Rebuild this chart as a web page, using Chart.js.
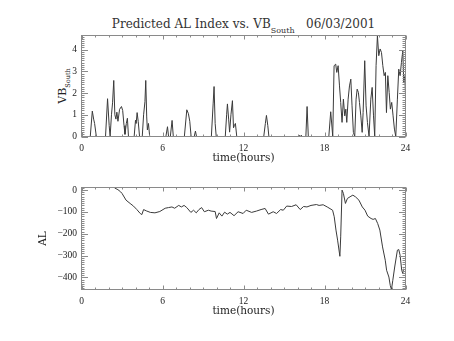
<!DOCTYPE html>
<html><head><meta charset="utf-8">
<script src="https://cdn.jsdelivr.net/npm/chart.js@4"></script>
<style>
html,body{margin:0;padding:0;background:#fff;width:454px;height:341px;overflow:hidden;position:relative}
canvas{position:absolute;left:0}
#c1{top:0}
#c2{top:170px}
#title{position:absolute;left:81.5px;width:324px;top:17px;text-align:center;font-family:"DejaVu Serif";font-size:12px;color:#333;white-space:nowrap;line-height:14px}
#title sub{font-size:8px;vertical-align:-5px;line-height:0}
#vblabel{position:absolute;left:63px;top:86px;transform:translate(-50%,-50%) rotate(-90deg);font-family:"DejaVu Serif";font-size:11px;color:#222;white-space:nowrap;line-height:12px}
#vblabel sub{font-size:6.5px;vertical-align:-4px;line-height:0}
</style></head><body>
<div id="title">Predicted AL Index vs. VB<sub>South</sub>&nbsp;&nbsp;&nbsp;06/03/2001</div>
<div id="vblabel">VB<sub>South</sub></div>
<canvas id="c1" width="454" height="170"></canvas>
<canvas id="c2" width="454" height="171"></canvas>
<script>
// ---- data ----
const hourTicks = [0, 6, 12, 18, 24];
const vbTicks = [0, 1, 2, 3, 4];
const alTicks = [0, -100, -200, -300, -400];

const vbTimes = [0,0.65,0.8,0.9,0.97,1.1,1.78,1.93,2.05,2.12,2.22,2.3,2.39,2.47,2.55,2.62,2.7,2.82,2.96,3.05,3.15,3.22,3.32,3.4,3.48,
  3.9,4.0,4.05,4.12,4.2,4.3,4.5,4.6,4.7,4.76,4.83,4.88,4.96,5.05,6.25,6.37,6.45,6.58,6.71,6.8,7.62,7.8,7.92,8.02,8.12,8.35,8.44,8.52,
  9.62,9.75,9.82,9.9,9.98,10.65,10.75,10.81,10.9,10.97,11.07,11.18,11.26,11.32,11.4,11.5,13.5,13.62,13.7,13.8,13.88,
  16.05,16.12,16.2,16.28,16.35,16.62,16.71,16.8,18.32,18.46,18.61,18.71,18.83,18.91,19.01,19.11,19.2,19.3,19.4,19.5,19.58,19.65,
  19.75,19.85,19.95,20.04,20.14,20.24,20.34,20.42,20.51,20.59,20.69,20.79,20.86,20.98,21.08,21.18,21.3,21.43,21.53,21.63,21.72,
  21.82,21.92,22.02,22.12,22.22,22.32,22.42,22.51,22.59,22.69,22.79,22.88,22.98,23.08,23.18,23.28,23.4,23.5,23.6,23.7,23.8,23.87,23.95,24];
const vbValues = [0,0,1.17,0.8,0.6,0,0,1.74,0.5,0,1.0,1.55,2.58,1.0,0.8,1.12,0.7,1.25,1.38,1.2,0.5,0.1,0.6,0.84,0,
  0,0.75,0.6,1.1,0.7,0,0,1.0,1.6,2.58,0.9,0.3,0.6,0,0,0.45,0,0,0.74,0,0,1.23,1.05,0.7,0,0,0.25,0,
  0,1.5,2.3,0.6,0,0,1.0,1.5,0.8,0.2,1.0,1.65,0.4,0.5,0.6,0,0,0.6,0.97,0.5,0,
  0,0.06,0,0.06,0,0,1.38,0,0,1.14,0,3.26,3.33,2.95,3.26,2.33,1.57,0.65,1.72,0.95,1.26,0.65,
  1.72,2.33,2.64,1.41,0.19,0,1.72,2.18,2.03,1.57,0.95,0.19,1.1,3.49,1.41,0.65,0,1.72,2.26,0.95,0,
  3.26,4.64,3.72,4.03,3.87,3.26,2.8,2.95,1.1,2.8,2.03,1.26,1.57,0.95,0.34,0,1.72,3.1,2.8,3.41,3.95,2.49,2.8,1.9];

const alTimes = [2.45,2.7,2.9,3.0,3.3,3.6,3.85,4.1,4.35,4.47,4.6,4.8,5.1,5.44,5.8,6.2,6.44,6.7,6.9,7.2,7.4,7.6,7.8,8.1,8.3,8.5,8.7,8.9,
  9.1,9.4,9.6,9.9,10.0,10.2,10.4,10.6,10.8,11.0,11.3,11.6,11.97,12.2,12.6,12.96,13.3,13.6,13.85,14.2,14.45,14.75,14.95,15.2,15.56,15.9,
  16.2,16.45,16.7,17.0,17.4,17.6,17.9,18.2,18.6,18.72,18.85,18.97,19.14,19.2,19.3,19.4,19.55,19.7,19.96,20.1,20.3,20.55,20.8,21.0,
  21.2,21.45,21.6,21.77,21.94,22.1,22.3,22.5,22.6,22.77,22.87,22.96,23.06,23.2,23.4,23.5,23.6,23.72,23.8,23.85];
const alValues = [10,2,-8,-15,-46,-61,-73,-89,-107,-112,-89,-95,-102,-104,-98,-83,-80,-77,-83,-70,-77,-70,-80,-102,-92,-104,-89,-80,
  -99,-92,-96,-98,-130,-104,-119,-101,-110,-102,-117,-99,-107,-92,-102,-96,-89,-84,-110,-99,-107,-89,-92,-73,-75,-67,
  -89,-75,-77,-70,-66,-70,-67,-77,-92,-122,-183,-229,-303,-214,0,-15,-61,-38,-28,-23,-31,-46,-77,-92,
  -119,-130,-134,-130,-153,-183,-260,-321,-367,-398,-436,-455,-413,-352,-275,-272,-298,-367,-382,-360];

const xMinorStep = 1, vbMinorStep = 0.1, alMinorStep = 10;

// ---- helpers ----
const toPts = (xs, ys) => xs.map((x, i) => ({x, y: ys[i]}));
const tickFont = {family: 'Liberation Serif', size: 9.5};
const titleFont = {family: 'DejaVu Serif', size: 10.5};
const txt = '#222';

const framePlugin = {
  id: 'frame',
  afterDraw(chart, args, opts) {
    const {ctx, chartArea: {left, right, top, bottom}} = chart;
    const xs = chart.scales.x, ys = chart.scales.y;
    ctx.save();
    ctx.strokeStyle = '#8a8a8a';
    ctx.lineWidth = 1;
    ctx.strokeRect(left, top, right - left, bottom - top);
    ctx.beginPath();
    const xmin = xs.min, xmax = xs.max;
    for (let v = Math.ceil(xmin / xMinorStep) * xMinorStep; v <= xmax + 1e-9; v += xMinorStep) {
      const p = Math.round(xs.getPixelForValue(v)) + 0.5;
      const L = (Math.abs(v % 6) < 1e-6) ? 4 : 2;
      ctx.moveTo(p, bottom); ctx.lineTo(p, bottom - L);
      ctx.moveTo(p, top); ctx.lineTo(p, top + L);
    }
    const st = opts.minorStep, maj = opts.majorStep;
    const start = Math.ceil(ys.min / st - 1e-9);
    const end = Math.floor(ys.max / st + 1e-9);
    for (let k = start; k <= end; k++) {
      const v = k * st;
      const p = Math.round(ys.getPixelForValue(v)) + 0.5;
      const isMaj = Math.abs(v / maj - Math.round(v / maj)) < 1e-6;
      const L = isMaj ? 6.5 : 3;
      ctx.moveTo(left, p); ctx.lineTo(left + L, p);
      ctx.moveTo(right, p); ctx.lineTo(right - L, p);
    }
    ctx.stroke();
    ctx.restore();
  }
};

function makeChart(id, pts, yMin, yMax, yTicks, yTitle, minorStep, majorStep, pad, xBoxH) {
  return new Chart(document.getElementById(id), {
    type: 'line',
    data: {datasets: [{data: pts, borderColor: '#3a3a3a', borderWidth: 1, pointRadius: 0, tension: 0, fill: false, clip: false}]},
    options: {
      responsive: false, animation: false, devicePixelRatio: 1,
      layout: {padding: pad},
      plugins: {legend: {display: false}, tooltip: {enabled: false}, frame: {minorStep, majorStep}},
      scales: {
        x: {
          type: 'linear', min: 0, max: 24,
          afterBuildTicks: s => { s.ticks = hourTicks.map(v => ({value: v})); },
          grid: {display: false, drawTicks: false}, border: {display: false},
          ticks: {font: tickFont, color: txt, padding: 6, autoSkip: false, maxRotation: 0, callback: v => String(v)},
          title: {display: true, text: 'time(hours)', font: titleFont, color: txt, padding: {top: 0, bottom: 5}},
          afterFit: s => { s.height = xBoxH; }
        },
        y: {
          type: 'linear', min: yMin, max: yMax,
          afterBuildTicks: s => { s.ticks = yTicks.map(v => ({value: v})); },
          grid: {display: false, drawTicks: false}, border: {display: false},
          ticks: {font: tickFont, color: txt, padding: 4.5, autoSkip: false, callback: v => String(v).replace('-', '\u2212')},
          title: {display: !!yTitle, text: yTitle || '', font: titleFont, color: txt, padding: {top: 37, bottom: 0}},
          afterFit: s => { s.width = 81.5; }
        }
      }
    },
    plugins: [framePlugin]
  });
}

makeChart('c1', toPts(vbTimes, vbValues), 0, 4.65, vbTicks, '', vbMinorStep, 1,
  {left: 0, right: 48.5, top: 35.5, bottom: 0}, 33.5);
makeChart('c2', toPts(alTimes, alValues), -455, 12, alTicks, 'AL', alMinorStep, 100,
  {left: 0, right: 48.5, top: 17.5, bottom: 18}, 33.5);
</script>
</body></html>
